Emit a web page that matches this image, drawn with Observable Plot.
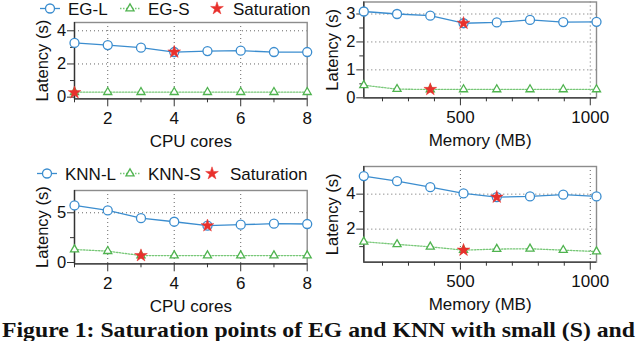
<!DOCTYPE html>
<html><head><meta charset="utf-8">
<script src="https://cdn.jsdelivr.net/npm/d3@7"></script>
<script src="https://cdn.jsdelivr.net/npm/@observablehq/plot@0.6"></script>
<style>
html,body{margin:0;padding:0;background:#fff;}
#root{position:relative;width:640px;height:341px;overflow:hidden;background:#fff;}
.abs{position:absolute;}
</style></head><body><div id="root"></div>
<script>
// ---------- data ----------
const cores = [1, 2, 3, 4, 5, 6, 7, 8];
const memory = [128, 256, 384, 512, 640, 768, 896, 1024];

const egL_cpu = [3.27, 3.14, 2.98, 2.72, 2.78, 2.8, 2.72, 2.72];
const egS_cpu = [0.3, 0.3, 0.3, 0.3, 0.3, 0.3, 0.3, 0.3];
const egSat_cpu_x = [1, 4];
const egSat_cpu_y = [0.27, 2.72];

const egL_mem = [3.09, 3.0, 2.94, 2.67, 2.7, 2.79, 2.71, 2.72];
const egS_mem = [0.45, 0.31, 0.3, 0.3, 0.3, 0.3, 0.3, 0.3];
const egSat_mem_x = [384, 512];
const egSat_mem_y = [0.3, 2.67];

const knnL_cpu = [5.74, 5.24, 4.46, 4.1, 3.7, 3.8, 3.9, 3.87];
const knnS_cpu = [1.31, 1.14, 0.7, 0.7, 0.7, 0.7, 0.7, 0.7];
const knnSat_cpu_x = [3, 5];
const knnSat_cpu_y = [0.7, 3.7];

const knnL_mem = [5.03, 4.74, 4.4, 4.04, 3.83, 3.87, 3.97, 3.87];
const knnS_mem = [1.28, 1.13, 0.99, 0.8, 0.86, 0.88, 0.8, 0.72];
const knnSat_mem_x = [512, 640];
const knnSat_mem_y = [0.8, 3.83];

const cpuMajor = [2, 4, 6, 8], cpuMinor = [1, 3, 5, 7], cpuGrid = [2, 4, 6];
const memMajor = [500, 1000], memMinor = [200, 300, 400, 600, 700, 800, 900], memGrid = [500, 1000];

const legendEG = ["EG-L", "EG-S", "Saturation"];
const legendKNN = ["KNN-L", "KNN-S", "Saturation"];
const yTitle = "Latency (s)";
const xTitleCpu = "CPU cores";
const xTitleMem = "Memory (MB)";
const caption = "Figure 1: Saturation points of EG and KNN with small (S) and";

// ---------- styles ----------
const blue = "#3b8dcf", green = "#4fb34f", greenLine = "#78c878", red = "#e8302c";
const sans = "'Liberation Sans', Arial, Helvetica, sans-serif";
const root = document.getElementById("root");
const plain = d => `${d}`;

function panel(p) {
  const chart = Plot.plot({
    width: 320, height: 158,
    marginLeft: p.m[0], marginRight: p.m[1], marginTop: p.m[2], marginBottom: p.m[3],
    x: {domain: p.xDomain},
    y: {domain: p.yDomain},
    style: {fontFamily: sans, fontSize: "17px", color: "#111", background: "transparent", overflow: "visible"},
    marks: [
      Plot.gridX(p.xGrid, {stroke: "#666", strokeOpacity: 1, strokeDasharray: "1,3"}),
      Plot.gridY(p.yGrid, {stroke: "#666", strokeOpacity: 1, strokeDasharray: "1,3"}),
      Plot.frame({stroke: "#8c8c8c", strokeWidth: 1.4}),
      Plot.ruleX([p.xDomain[0]], {stroke: "#333", strokeWidth: 1.3}),
      Plot.ruleY([p.yDomain[0]], {stroke: "#333", strokeWidth: 1.3}),
      Plot.axisX(p.xMinor, {tickSize: 4, tickFormat: () => "", label: null, stroke: "#333"}),
      Plot.axisX(p.xMajor, {tickSize: 8, tickPadding: 5, stroke: "#333", tickFormat: plain, label: p.xLabel, labelAnchor: "center", labelOffset: 48, labelArrow: "none"}),
      Plot.axisY(p.yMinor, {tickSize: 4, tickFormat: () => "", label: null, stroke: "#333"}),
      Plot.axisY(p.yMajor, {tickSize: 7, tickPadding: 1.3, stroke: "#333", tickFormat: plain, label: yTitle, labelAnchor: "center", labelOffset: p.yLabelOffset, labelArrow: "none", fontSize: "16.5px"}),
      Plot.line(p.L, {x: p.x, y: p.L, stroke: blue, strokeWidth: 1.3}),
      Plot.line(p.S, {x: p.x, y: p.S, stroke: greenLine, strokeWidth: 1.3, strokeDasharray: "1.5,1.5"}),
      Plot.dot(p.L, {x: p.x, y: p.L, symbol: "circle", r: 4.5, stroke: blue, fill: "white", strokeWidth: 1.3}),
      Plot.dot(p.S, {x: p.x, y: p.S, symbol: "triangle", r: 3, stroke: green, fill: "white", strokeWidth: 1.3}),
      Plot.dot(p.satY, {x: p.satX, y: p.satY, symbol: "star", r: 4, fill: red, stroke: red, strokeWidth: 0.5})
    ]
  });
  chart.classList.add("abs");
  chart.style.left = p.left + "px";
  chart.style.top = p.top + "px";
  root.appendChild(chart);
}

panel({left: 0, top: 0, m: [74, 13.3, 22, 59.7], x: cores, L: egL_cpu, S: egS_cpu, satX: egSat_cpu_x, satY: egSat_cpu_y,
  xDomain: [1, 8], yDomain: [-0.1, 4.5], xMajor: cpuMajor, xMinor: cpuMinor, xGrid: cpuGrid,
  yMajor: [0, 2, 4], yMinor: [1, 3], yGrid: [2, 4], xLabel: xTitleCpu, yLabelOffset: 38});
panel({left: 320, top: 0, m: [43.3, 44, 1.5, 60.7], x: memory, L: egL_mem, S: egS_mem, satX: egSat_mem_x, satY: egSat_mem_y,
  xDomain: [128, 1024], yDomain: [0, 3.43], xMajor: memMajor, xMinor: memMinor, xGrid: memGrid,
  yMajor: [0, 1, 2, 3], yMinor: [0.5, 1.5, 2.5], yGrid: [1, 2, 3], xLabel: xTitleMem, yLabelOffset: 38});
panel({left: 0, top: 160, m: [74, 13.3, 30, 54.7], x: cores, L: knnL_cpu, S: knnS_cpu, satX: knnSat_cpu_x, satY: knnSat_cpu_y,
  xDomain: [1, 8], yDomain: [-0.13, 7.24], xMajor: cpuMajor, xMinor: cpuMinor, xGrid: cpuGrid,
  yMajor: [0, 5], yMinor: [2.5], yGrid: [5], xLabel: xTitleCpu, yLabelOffset: 38});
panel({left: 320, top: 160, m: [43.3, 44, 6, 56.3], x: memory, L: knnL_mem, S: knnS_mem, satX: knnSat_mem_x, satY: knnSat_mem_y,
  xDomain: [128, 1024], yDomain: [0.11, 5.58], xMajor: memMajor, xMinor: memMinor, xGrid: memGrid,
  yMajor: [2, 4], yMinor: [1, 3, 5], yGrid: [2, 4], xLabel: xTitleMem, yLabelOffset: 38});

// ---------- legends ----------
const sym = (type, r) => d3.symbol(type, Math.PI * r * r)();
function legend(top, labels, pos) {
  const svg = d3.create("svg").attr("width", 320).attr("height", 24).attr("class", "abs")
    .style("left", "0px").style("top", top + "px").style("overflow", "visible");
  const cy = 8.5, by = 14.5;
  svg.append("line").attr("x1", pos[0]).attr("x2", pos[0] + 20).attr("y1", cy).attr("y2", cy).attr("stroke", blue).attr("stroke-width", 1.3);
  svg.append("path").attr("d", sym(d3.symbolCircle, 4.5)).attr("transform", `translate(${pos[0] + 10},${cy})`).attr("stroke", blue).attr("fill", "white").attr("stroke-width", 1.3);
  svg.append("text").attr("x", pos[1]).attr("y", by).text(labels[0]);
  svg.append("line").attr("x1", pos[2]).attr("x2", pos[2] + 20).attr("y1", cy).attr("y2", cy).attr("stroke", greenLine).attr("stroke-width", 1.3).attr("stroke-dasharray", "1.5,1.5");
  svg.append("path").attr("d", sym(d3.symbolTriangle, 3)).attr("transform", `translate(${pos[2] + 10},${cy})`).attr("stroke", green).attr("fill", "white").attr("stroke-width", 1.3);
  svg.append("text").attr("x", pos[3]).attr("y", by).text(labels[1]);
  svg.append("path").attr("d", sym(d3.symbolStar, 4)).attr("transform", `translate(${pos[4]},${cy})`).attr("fill", red).attr("stroke", red).attr("stroke-width", 0.5);
  svg.append("text").attr("x", pos[5]).attr("y", by).text(labels[2]);
  svg.selectAll("text").attr("font-family", sans).attr("font-size", 17).attr("fill", "#111");
  root.appendChild(svg.node());
}
legend(0, legendEG, [40, 68, 120, 148, 217, 233]);
legend(165, legendKNN, [37, 65, 120, 148, 212, 230]);

// ---------- caption ----------
const cap = d3.create("svg").attr("width", 640).attr("height", 341).attr("class", "abs")
  .style("left", "0px").style("top", "0px").style("pointer-events", "none");
cap.append("text").attr("x", 2).attr("y", 336.5)
  .attr("font-family", "'Liberation Serif', 'Times New Roman', serif").attr("font-weight", "bold").attr("font-size", 21.5)
  .attr("textLength", 633).attr("lengthAdjust", "spacingAndGlyphs").attr("fill", "#111").text(caption);
root.appendChild(cap.node());
</script></body></html>
